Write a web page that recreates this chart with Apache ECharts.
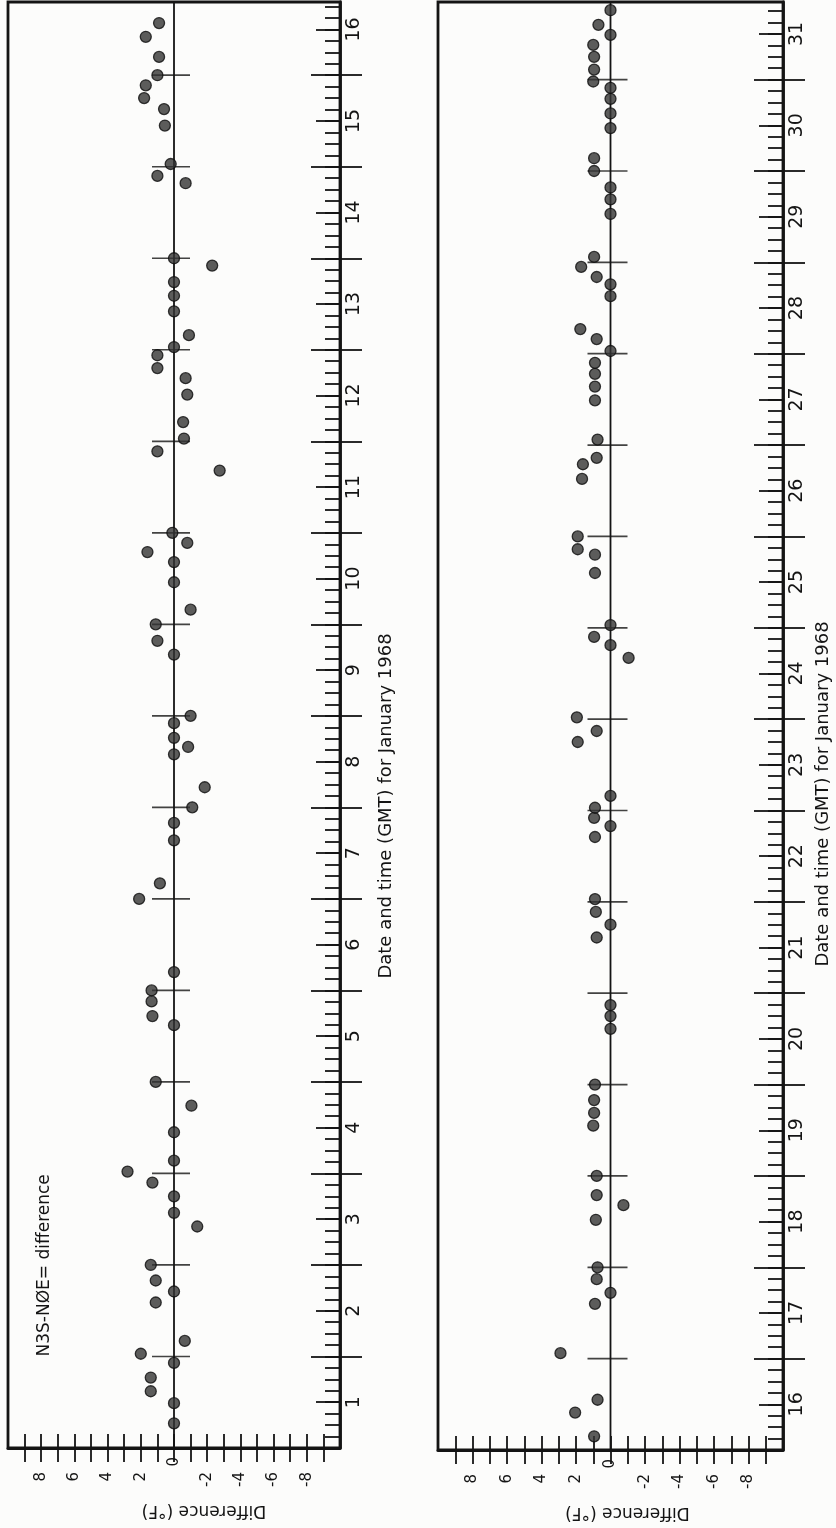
<!DOCTYPE html>
<html>
<head>
<meta charset="utf-8">
<script src="https://cdn.jsdelivr.net/npm/echarts@6/dist/echarts.min.js"></script>
<style>
  html, body { margin: 0; padding: 0; background: #fcfcfb; }
  #chart { width: 836px; height: 1528px; }
</style>
</head>
<body>
<div id="chart"></div>
<script>
// Observation time, in days of January 1968 (fraction = time of day, GMT)
// and the temperature difference N3S - NØE in °F.
const timesJan1to16 = [
  1.27, 1.49, 1.62, 1.77, 1.93, 2.03, 2.17, 2.59, 2.71, 2.83, 3.00, 3.42, 3.57, 3.75,
  3.90, 4.02, 4.14, 4.45, 4.74, 5.00, 5.62, 5.72, 5.88, 6.00, 6.20, 7.00, 7.17, 7.64,
  7.83, 8.00, 8.22, 8.58, 8.66, 8.76, 8.92, 9.00, 9.67, 9.82, 10.00, 10.16, 10.46, 10.68,
  10.79, 10.89, 11.00, 11.68, 11.89, 12.03, 12.21, 12.51, 12.69, 12.80, 12.94, 13.03,
  13.16, 13.42, 13.59, 13.74, 13.92, 14.00, 14.82, 14.90, 15.03, 15.45, 15.63, 15.75,
  15.89, 16.00, 16.20, 16.42, 16.57
];
const diffsJan1to16 = [
  0, 0, 1.4, 1.4, 0, 2.0, -0.65, 1.1, 0, 1.1, 1.4, -1.4, 0, 0,
  1.3, 2.8, 0, 0, -1.05, 1.1, 0, 1.3, 1.35, 1.35, 0, 2.1, 0.85, 0,
  0, -1.1, -1.85, 0, -0.85, 0, 0, -1.0, 0, 1.0, 1.1, -1.0, 0, 0,
  1.6, -0.8, 0.1, -2.75, 1.0, -0.6, -0.55, -0.8, -0.7, 1.0, 1.0, 0,
  -0.9, 0, 0, 0, -2.3, 0, -0.7, 1.0, 0.2, 0.55, 0.6, 1.8,
  1.7, 1.0, 0.9, 1.7, 0.9
];

const timesJan16to31 = [
  16.15, 16.41, 16.55, 17.06, 17.60, 17.72, 17.87, 18.00, 18.52, 18.68, 18.79, 19.00,
  19.55, 19.69, 19.83, 20.00, 20.61, 20.75, 20.87, 21.61, 21.75, 21.89, 22.03, 22.71,
  22.83, 22.92, 23.03, 23.16, 23.75, 23.87, 24.02, 24.67, 24.81, 24.90, 25.03, 25.60,
  25.80, 25.86, 26.00, 26.63, 26.79, 26.86, 27.06, 27.49, 27.64, 27.78, 27.90, 28.03,
  28.16, 28.27, 28.63, 28.76, 28.84, 28.95, 29.06, 29.53, 29.69, 29.82, 30.00, 30.14,
  30.47, 30.63, 30.79, 30.91, 30.98, 31.11, 31.25, 31.38, 31.49, 31.60, 31.76
];
const diffsJan16to31 = [
  0.95, 2.05, 0.75, 2.9, 0.9, 0, 0.8, 0.75, 0.85, -0.75, 0.8, 0.8,
  1.0, 0.95, 0.95, 0.9, 0, 0, 0, 0.8, 0, 0.85, 0.9, 0.9,
  0, 0.95, 0.9, 0, 1.9, 0.8, 1.95, -1.05, 0, 0.95, 0, 0.9,
  0.9, 1.9, 1.9, 1.65, 1.6, 0.8, 0.75, 0.9, 0.9, 0.9, 0.9, 0,
  0.8, 1.75, 0, 0, 0.8, 1.7, 0.95, 0, 0, 0, 0.95, 0.95,
  0, 0, 0, 0, 1.0, 0.95, 0.95, 1.0, 0, 0.7, 0
];

// Date axis labels (one per day, written at 12 GMT)
const dayLabelsJan1to16 = [1, 2, 3, 4, 5, 6, 7, 8, 9, 10, 11, 12, 13, 14, 15, 16];
const dayLabelsJan16to31 = [16, 17, 18, 19, 20, 21, 22, 23, 24, 25, 26, 27, 28, 29, 30, 31];

// Difference axis ticks and labels (°F)
const diffTickValues = [-9, -8, -7, -6, -5, -4, -3, -2, -1, 0, 1, 2, 3, 4, 5, 6, 7, 8, 9];
const diffLabelValues = [8, 6, 4, 2, -2, -4, -6, -8];
const diffRange = [-10, 10];

const dateAxisTitle = 'Date and time (GMT) for January 1968';
const diffAxisTitle = 'Difference (°F)';
const noteText = 'N3S-NØE= difference';
const notePosition = [7.8, 2.0];   // [difference, day] where the note starts

const INK = '#141414';
const FONT = 'DejaVu Sans';

function steps(from, to, step) {
  const out = [];
  for (let v = from; v <= to + 1e-9; v += step) out.push(+v.toFixed(4));
  return out;
}

// Builds axes and series for one panel (one grid)
function buildPanel(p, dayLabels, maxDay, opts) {
  const minDay = dayLabels[0];
  const noonValues = dayLabels.map(d => d + 0.5);
  const midnightValues = dayLabels.slice(1);
  const threeHourly = steps(minDay + 0.125, maxDay, 0.125);
  const noLabel = { show: false };
  const noSplit = { show: false };

  const xAxes = [
    {
      type: 'value', gridIndex: p, min: diffRange[0], max: diffRange[1], inverse: true,
      position: 'bottom', splitLine: noSplit,
      axisLine: { show: true, onZero: false, lineStyle: { color: INK, width: 2.8 } },
      axisTick: { show: true, inside: false, length: 14, customValues: diffTickValues,
                  lineStyle: { color: INK, width: 1.8 } },
      axisLabel: { show: true, customValues: diffLabelValues, rotate: 90, margin: 24,
                   fontSize: 15, fontFamily: FONT, color: INK },
      name: diffAxisTitle, nameLocation: 'middle', nameRotate: 180, nameGap: 54,
      nameTextStyle: { fontSize: 17, fontFamily: FONT, color: INK,
                       padding: [0, opts.diffTitleShift, 0, 0] }
    },
    {
      type: 'value', gridIndex: p, min: diffRange[0], max: diffRange[1], inverse: true,
      position: 'bottom', splitLine: noSplit,
      axisLine: { show: false, onZero: false },
      axisTick: { show: true, inside: true, length: 14, customValues: diffTickValues,
                  lineStyle: { color: INK, width: 1.8 } },
      axisLabel: { show: true, customValues: [0], rotate: 90, margin: 9,
                   fontSize: 15, fontFamily: FONT, color: INK }
    }
  ];

  const dateBase = {
    type: 'value', gridIndex: p, min: minDay, max: maxDay, position: 'right',
    splitLine: noSplit
  };
  const yAxes = [
    Object.assign({}, dateBase, {
      axisLine: { show: true, onZero: false, lineStyle: { color: INK, width: 2.8 } },
      axisTick: { show: true, inside: true, length: 15, customValues: threeHourly,
                  lineStyle: { color: INK, width: 1.8 } },
      axisLabel: { show: true, customValues: noonValues, rotate: 90, margin: 5,
                   fontSize: 19, fontFamily: FONT, color: INK,
                   formatter: v => String(Math.round(v - 0.5)) },
      name: dateAxisTitle, nameLocation: 'middle', nameRotate: 90, nameGap: opts.dateTitleGap,
      nameTextStyle: { fontSize: 18, fontFamily: FONT, color: INK,
                       padding: [0, opts.dateTitleShift, 0, 0] }
    }),
    Object.assign({}, dateBase, {
      axisLine: { show: false, onZero: false },
      axisTick: { show: true, inside: true, length: 24, customValues: noonValues,
                  lineStyle: { color: INK, width: 1.8 } },
      axisLabel: noLabel
    }),
    Object.assign({}, dateBase, {
      axisLine: { show: false, onZero: false },
      axisTick: { show: true, inside: true, length: 29, customValues: midnightValues,
                  lineStyle: { color: INK, width: 1.8 } },
      axisLabel: noLabel
    }),
    Object.assign({}, dateBase, {
      axisLine: { show: false, onZero: false },
      axisTick: { show: true, inside: false, length: 22, customValues: midnightValues,
                  lineStyle: { color: INK, width: 1.8 } },
      axisLabel: noLabel
    })
  ];

  const xi = p * 2, yi = p * 4;
  const series = [
    { // zero-difference line
      type: 'line', xAxisIndex: xi, yAxisIndex: yi, z: 1, silent: true,
      symbol: 'none', lineStyle: { color: INK, width: 1.8 },
      data: [[0, minDay], [0, maxDay]]
    },
    { // day boundary marks across the zero line
      type: 'scatter', xAxisIndex: xi, yAxisIndex: yi, z: 1, silent: true,
      symbol: 'rect', symbolSize: [opts.markLength, 1.7], symbolOffset: [-3, 0],
      itemStyle: { color: INK },
      data: midnightValues.map(d => [0, d])
    },
    { // observed differences
      type: 'scatter', xAxisIndex: xi, yAxisIndex: yi, z: 3,
      symbol: 'circle', symbolSize: 11,
      itemStyle: { color: '#333333', borderColor: '#0c0c0c', borderWidth: 1.3 },
      data: opts.times.map((t, i) => [opts.diffs[i], t])
    }
  ];
  return { xAxes, yAxes, series };
}

const left = buildPanel(0, dayLabelsJan1to16, 16.8, {
  times: timesJan1to16, diffs: diffsJan1to16,
  diffTitleShift: 60, dateTitleShift: 162, dateTitleGap: 37, markLength: 38
});
const right = buildPanel(1, dayLabelsJan16to31, 31.85, {
  times: timesJan16to31, diffs: diffsJan16to31,
  diffTitleShift: 34, dateTitleShift: 136, dateTitleGap: 31, markLength: 40
});

const chart = echarts.init(document.getElementById('chart'), null, { renderer: 'canvas' });
chart.setOption({
  backgroundColor: '#fcfcfb',
  animation: false,
  grid: [
    { left: 8, top: 2, width: 332, height: 1446, show: true,
      borderColor: INK, borderWidth: 2.8, backgroundColor: 'transparent' },
    { left: 438, top: 2, width: 345, height: 1448, show: true,
      borderColor: INK, borderWidth: 2.8, backgroundColor: 'transparent' }
  ],
  xAxis: left.xAxes.concat(right.xAxes),
  yAxis: left.yAxes.concat(right.yAxes),
  series: left.series.concat(right.series)
});

// Note inside the first panel, reading upward
const notePx = chart.convertToPixel({ xAxisIndex: 0, yAxisIndex: 0 }, notePosition);
chart.setOption({
  graphic: [{
    type: 'text', x: notePx[0], y: notePx[1], rotation: Math.PI / 2, silent: true,
    style: {
      text: noteText, fontSize: 17, fontFamily: FONT, fill: INK,
      textAlign: 'left', align: 'left', textVerticalAlign: 'middle', verticalAlign: 'middle'
    }
  }]
});
</script>
</body>
</html>
